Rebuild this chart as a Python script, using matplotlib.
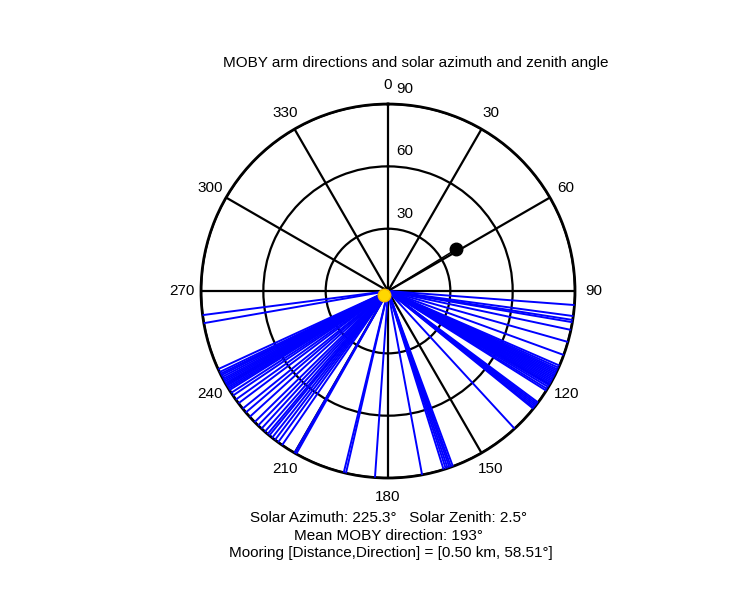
import matplotlib.pyplot as plt
import matplotlib.transforms as mtransforms
import numpy as np

plt.rcParams['font.family'] = ['Liberation Sans', 'DejaVu Sans']

# MOBY arm directions (deg, clockwise from north)
arm_dirs = [94.3, 97.7, 98.9, 99.6, 102.0, 105.8, 110.0,
            113.5, 114.2, 114.8, 115.3, 115.8, 116.3, 116.8, 117.3, 117.8,
            118.3, 118.8, 119.3, 119.8, 120.3, 120.9, 121.6, 122.2,
            126.6, 127.1, 127.6, 128.1, 128.6, 129.0, 137.4,
            159.7, 160.3, 160.8, 161.4, 162.0, 162.7, 169.5,
            184.0, 193.0, 193.7,
            209.4, 210.0, 214.5, 216.0, 217.2, 218.3, 219.4, 220.1, 221.2,
            222.6, 224.0, 225.5, 227.7, 229.5, 231.0, 233.1, 234.5, 236.0,
            237.0, 238.0, 238.5, 239.0, 239.5, 240.0, 240.5, 241.0, 241.5,
            242.0, 242.6, 243.2, 243.7, 244.3, 245.3,
            260.1, 262.6]

sol_az = 225.3
sol_zen = 2.5
mean_dir = 193
moor_dist = 0.50
moor_dir = 58.51
moor_r = 38.3  # plotted radius of mooring marker

ring_vals = [30, 60, 90]
theta_ticks = list(range(0, 360, 30))

fig = plt.figure(figsize=(7.5, 6), dpi=100)
ax = fig.add_axes([0.268, 0.2033, 0.4987, 0.6233], projection='polar')
ax.set_theta_zero_location('N')
ax.set_theta_direction(-1)
ax.set_ylim(0, 90)
ax.set_axisbelow(True)

ax.set_xticks(np.radians(theta_ticks))
ax.set_xticklabels([])
ax.set_yticks(ring_vals)
ax.set_yticklabels([])
ax.grid(True, color='black', linewidth=1.6, linestyle='-')
ax.spines['polar'].set_color('black')
ax.spines['polar'].set_linewidth(2)

# arm direction lines
for d in arm_dirs:
    ax.plot([np.radians(d), np.radians(d)], [0, 90], color='blue', lw=1.4, zorder=3)

# mooring
ax.plot([0, np.radians(moor_dir)], [0, moor_r], color='black', lw=1.1, zorder=4)
ax.plot(np.radians(moor_dir), moor_r, 'o', color='black', ms=9, zorder=5)

# sun
ax.plot(np.radians(sol_az), sol_zen, 'o', mfc='#FFD700', mec='#F5B800', ms=9, zorder=6)

# angle labels
for t in theta_ticks:
    ax.text(np.radians(t), 99, str(t), ha='center', va='center', fontsize=11, clip_on=False)

# radial labels, shifted right of the north spoke
rtrans = mtransforms.offset_copy(ax.transData, fig=fig, x=17, y=15, units='dots')
for r in ring_vals:
    ax.text(0, r, str(r), ha='center', va='center', fontsize=11,
            transform=rtrans, clip_on=False)

fig.text(416 / 750, 1 - 63 / 600, 'MOBY arm directions and solar azimuth and zenith angle',
         ha='center', va='center', fontsize=11)
fig.text(388 / 750, 1 - 518 / 600,
         f'Solar Azimuth: {sol_az:.1f}\u00b0   Solar Zenith: {sol_zen:.1f}\u00b0',
         ha='center', va='center', fontsize=11)
fig.text(388 / 750, 1 - 536 / 600, f'Mean MOBY direction: {mean_dir}\u00b0',
         ha='center', va='center', fontsize=11)
fig.text(391 / 750, 1 - 553 / 600,
         f'Mooring [Distance,Direction] = [{moor_dist:.2f} km, {moor_dir:.2f}\u00b0]',
         ha='center', va='center', fontsize=11)

fig.savefig('out.png', dpi=100)
